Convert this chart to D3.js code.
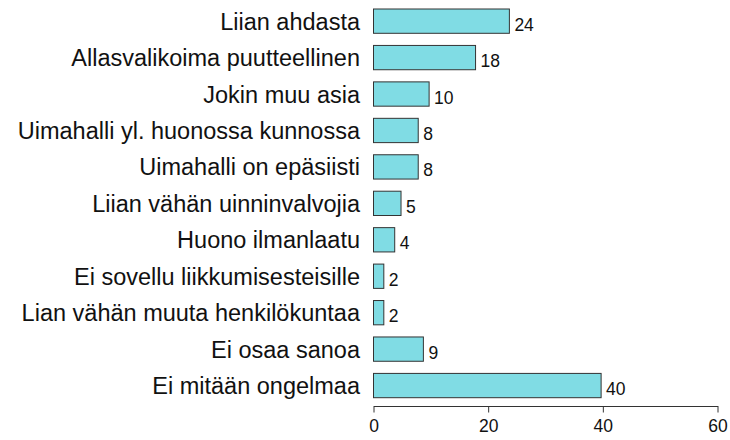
<!DOCTYPE html>
<html>
<head>
<meta charset="utf-8">
<script src="https://cdn.jsdelivr.net/npm/d3@7"></script>
<style>
  body { margin: 0; background: #fff; }
  svg { display: block; font-family: Arial, "Liberation Sans", sans-serif; }
</style>
</head>
<body>
<div id="chart"></div>
<script>
// categories, top to bottom
const categories = [
  "Liian ahdasta",
  "Allasvalikoima puutteellinen",
  "Jokin muu asia",
  "Uimahalli yl. huonossa kunnossa",
  "Uimahalli on epäsiisti",
  "Liian vähän uinninvalvojia",
  "Huono ilmanlaatu",
  "Ei sovellu liikkumisesteisille",
  "Lian vähän muuta henkilökuntaa",
  "Ei osaa sanoa",
  "Ei mitään ongelmaa"
];
// bar lengths (labels are rounded)
const values = [23.7, 17.8, 9.7, 7.8, 7.8, 4.8, 3.7, 1.8, 1.8, 8.7, 39.7];
const xTicks = [0, 20, 40, 60];

const width = 730, height = 440;
const data = categories.map((c, i) => ({cat: c, val: values[i]}));

const svg = d3.select("#chart").append("svg")
    .attr("width", width)
    .attr("height", height);

// scales
const x = d3.scaleLinear()
    .domain([0, 60])
    .range([373.5, 717.5]);

const y = d3.scaleBand()
    .domain(categories)
    .range([9, 397.7])
    .paddingInner(1 / 3)
    .paddingOuter(0);

// bars
svg.selectAll("rect.bar")
    .data(data)
    .enter()
    .append("rect")
    .attr("class", "bar")
    .attr("x", x(0))
    .attr("y", d => y(d.cat))
    .attr("width", d => x(d.val) - x(0))
    .attr("height", y.bandwidth())
    .attr("fill", "#80dce4")
    .attr("stroke", "#333")
    .attr("stroke-width", 1);

// value labels
svg.selectAll("text.val")
    .data(data)
    .enter()
    .append("text")
    .attr("class", "val")
    .attr("x", d => x(d.val) + 5)
    .attr("y", d => y(d.cat) + y.bandwidth() / 2 + 9.5)
    .attr("font-size", "17.5px")
    .attr("fill", "#111")
    .text(d => Math.round(d.val));

// category labels
svg.selectAll("text.cat")
    .data(data)
    .enter()
    .append("text")
    .attr("class", "cat")
    .attr("x", 360)
    .attr("y", d => y(d.cat) + y.bandwidth() / 2 + 8.5)
    .attr("text-anchor", "end")
    .attr("font-size", "23.5px")
    .attr("fill", "#111")
    .text(d => d.cat);

// x axis
const axis = svg.append("g")
    .attr("transform", "translate(0, 406)")
    .call(d3.axisBottom(x).tickValues(xTicks).tickSize(6.5).tickSizeOuter(0).tickPadding(7.5));

axis.select(".domain").attr("stroke", "#333");
axis.selectAll(".tick line").attr("stroke", "#333");
axis.selectAll(".tick text")
    .attr("font-size", "17.5px")
    .attr("font-family", "Arial, 'Liberation Sans', sans-serif")
    .attr("fill", "#111");
</script>
</body>
</html>
